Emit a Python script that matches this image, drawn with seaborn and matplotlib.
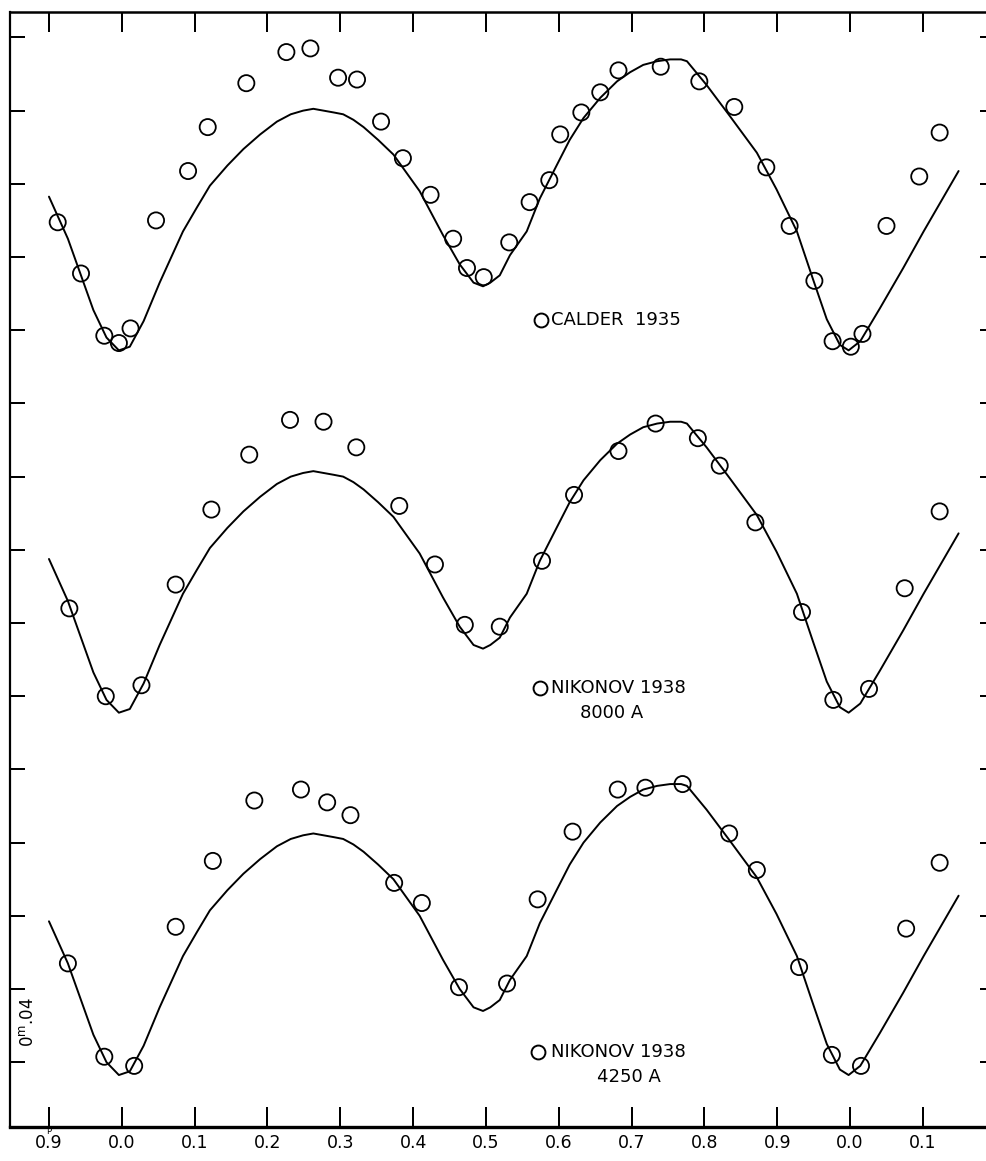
import numpy as np
import pandas as pd
import matplotlib
matplotlib.use('Agg')
import matplotlib.pyplot as plt
import seaborn as sns

# ── Data ─────────────────────────────────────────────────
# phase axis runs a bit past one cycle: -0.1 is labelled 0.9, 1.0/1.1 -> 0.0/0.1
# brightness in magnitudes, upward = brighter, relative to the lowest panel

# computed light curve (same shape in all three panels)
curve_phase = [-0.100, -0.074, -0.039, -0.021, -0.004, 0.011, 0.030, 0.052,
               0.084, 0.103, 0.121, 0.145, 0.167, 0.190, 0.213, 0.232, 0.249,
               0.263, 0.277, 0.291, 0.304, 0.318, 0.332, 0.352, 0.373,
               0.409, 0.441, 0.464, 0.483, 0.496, 0.506, 0.519, 0.533,
               0.556, 0.574, 0.597, 0.615, 0.634, 0.657, 0.680, 0.698,
               0.716, 0.735, 0.753, 0.768, 0.776, 0.803, 0.835, 0.872,
               0.899, 0.927, 0.949, 0.968, 0.986, 0.998, 1.014, 1.041,
               1.073, 1.101, 1.149]
curve_dmag = [0.077, 0.054, 0.015, 0.000, -0.007, -0.005, 0.009, 0.030,
              0.058, 0.071, 0.083, 0.094, 0.103, 0.111, 0.118, 0.122, 0.124,
              0.125, 0.124, 0.123, 0.122, 0.119, 0.115, 0.108, 0.100,
              0.080, 0.056, 0.040, 0.030, 0.028, 0.030, 0.034, 0.045,
              0.058, 0.076, 0.094, 0.108, 0.120, 0.131, 0.140, 0.145,
              0.149, 0.151, 0.152, 0.152, 0.151, 0.138, 0.121, 0.101,
              0.081, 0.058, 0.032, 0.010, -0.004, -0.007, -0.002, 0.016,
              0.038, 0.058, 0.091]

calder_phase = [-0.088, -0.056, -0.024, -0.004, 0.012, 0.047, 0.091, 0.118,
                0.171, 0.226, 0.259, 0.297, 0.323, 0.356, 0.386, 0.424,
                0.455, 0.474, 0.497, 0.532, 0.560, 0.587, 0.602, 0.631,
                0.657, 0.682, 0.740, 0.793, 0.841, 0.885, 0.917, 0.951,
                0.976, 1.001, 1.017, 1.050, 1.095, 1.123]
calder_dmag = [0.063, 0.035, 0.001, -0.003, 0.005, 0.064, 0.091, 0.115,
               0.139, 0.156, 0.158, 0.142, 0.141, 0.118, 0.098, 0.078,
               0.054, 0.038, 0.033, 0.052, 0.074, 0.086, 0.111, 0.123,
               0.134, 0.146, 0.148, 0.140, 0.126, 0.093, 0.061, 0.031,
               -0.002, -0.005, 0.002, 0.061, 0.088, 0.112]

nik8000_phase = [-0.072, -0.022, 0.027, 0.074, 0.123, 0.175, 0.231, 0.277,
                 0.322, 0.381, 0.430, 0.471, 0.519, 0.577, 0.621, 0.682,
                 0.733, 0.791, 0.821, 0.870, 0.934, 0.977, 1.026, 1.075,
                 1.123]
nik8000_dmag = [0.050, 0.002, 0.008, 0.063, 0.104, 0.134, 0.153, 0.152,
                0.138, 0.106, 0.074, 0.041, 0.040, 0.076, 0.112, 0.136,
                0.151, 0.143, 0.128, 0.097, 0.048, 0.000, 0.006, 0.061,
                0.103]

nik4250_phase = [-0.074, -0.024, 0.017, 0.074, 0.125, 0.182, 0.246, 0.282,
                 0.314, 0.374, 0.412, 0.463, 0.529, 0.571, 0.619, 0.681,
                 0.719, 0.770, 0.834, 0.872, 0.930, 0.975, 1.015, 1.077,
                 1.123]
nik4250_dmag = [0.054, 0.003, -0.002, 0.074, 0.110, 0.143, 0.149, 0.142,
                0.135, 0.098, 0.087, 0.041, 0.043, 0.089, 0.126, 0.149,
                0.150, 0.152, 0.125, 0.105, 0.052, 0.004, -0.002, 0.073,
                0.109]

panel_title = ['CALDER  1935', 'NIKONOV 1938', 'NIKONOV 1938']
panel_band = ['', '8000 A', '4250 A']
panel_shift = [0.396, 0.198, 0.0]

tick_phase = [-0.1, 0.0, 0.1, 0.2, 0.3, 0.4, 0.5, 0.6, 0.7, 0.8, 0.9, 1.0, 1.1]
tick_labels = ['0.9', '0.0', '0.1', '0.2', '0.3', '0.4', '0.5', '0.6',
               '0.7', '0.8', '0.9', '0.0', '0.1']
mag_ticks = np.arange(0, 0.57, 0.04)

# ── Long tables ──────────────────────────────────────────
obs = pd.concat([
    pd.DataFrame({'panel': i, 'phase': p, 'mag': np.array(m) + panel_shift[i]})
    for i, (p, m) in enumerate([(calder_phase, calder_dmag),
                                (nik8000_phase, nik8000_dmag),
                                (nik4250_phase, nik4250_dmag)])
])
curves = pd.concat([
    pd.DataFrame({'panel': i, 'phase': curve_phase,
                  'mag': np.array(curve_dmag) + panel_shift[i]})
    for i in range(3)
])

# ── Plot ─────────────────────────────────────────────────
sns.set_theme(style='ticks')
plt.rcParams['font.family'] = ['DejaVu Sans']
plt.rcParams['text.color'] = 'black'
plt.rcParams['xtick.color'] = 'black'
plt.rcParams['ytick.color'] = 'black'

W, H = 987, 1161
PT = 72 / 100   # points per pixel at dpi 100
fig = plt.figure(figsize=(W / 100, H / 100), dpi=100)
ax = fig.add_axes([10 / W, 34 / H, 985 / W, 1115 / H])

sns.lineplot(data=curves, x='phase', y='mag', units='panel', estimator=None,
             sort=False, color='black', lw=1.4, ax=ax)
sns.scatterplot(data=obs, x='phase', y='mag', marker='o', s=135,
                facecolors='none', edgecolor='black', linewidth=1.3,
                zorder=3, ax=ax)

ax.set_xlim(-0.1535, 1.199)
ax.set_ylim(-0.0354, 0.5739)
ax.set_xticks(tick_phase)
ax.set_xticklabels(tick_labels)
ax.set_yticks(mag_ticks)
ax.set_yticklabels([])
ax.set_xlabel('')
ax.set_ylabel('')

ax.tick_params(axis='x', direction='in', length=20 * PT, width=2 * PT,
               top=True, bottom=True, labelsize=12.5, pad=5,
               labelcolor='black')
ax.tick_params(axis='y', direction='in', length=15 * PT, width=2 * PT,
               left=True, right=True)
ax.spines['right'].set_visible(False)
ax.spines['left'].set_linewidth(1.6)
ax.spines['top'].set_linewidth(1.8)
ax.spines['bottom'].set_linewidth(2.4)
for s in ax.spines.values():
    s.set_color('black')


# panel captions, positions in axes fraction
def ax_pos(px, py):
    return (px - 10) / 985, (1127 - py) / 1115


for i, (cx, cy, bx) in enumerate([(541, 320, None), (540, 688, 580),
                                  (538, 1052, 597)]):
    kx, ky = ax_pos(cx, cy)
    ax.plot([kx], [ky], marker='o', ms=10, mfc='none', mec='black', mew=1.4,
            transform=ax.transAxes, clip_on=False)
    tx, _ = ax_pos(551, cy)
    ax.text(tx, ky, panel_title[i], transform=ax.transAxes, ha='left',
            va='center', fontsize=13, color='black')
    if bx is not None:
        bxx, byy = ax_pos(bx, cy + 25)
        ax.text(bxx, byy, panel_band[i], transform=ax.transAxes, ha='left',
                va='center', fontsize=13, color='black')

# scale bar label: one tick step is 0.04 mag
sx, sy = ax_pos(28, 1022)
ax.text(sx, sy, r'0$^{\mathrm{m}}$.04', transform=ax.transAxes,
        rotation=90, ha='center', va='center', fontsize=12, color='black')
ax.text(-0.1, -0.004, 'P', transform=ax.get_xaxis_transform(), ha='center',
        va='center', fontsize=6, color='black')

fig.savefig('out.png', dpi=100, facecolor='white')
plt.close(fig)
